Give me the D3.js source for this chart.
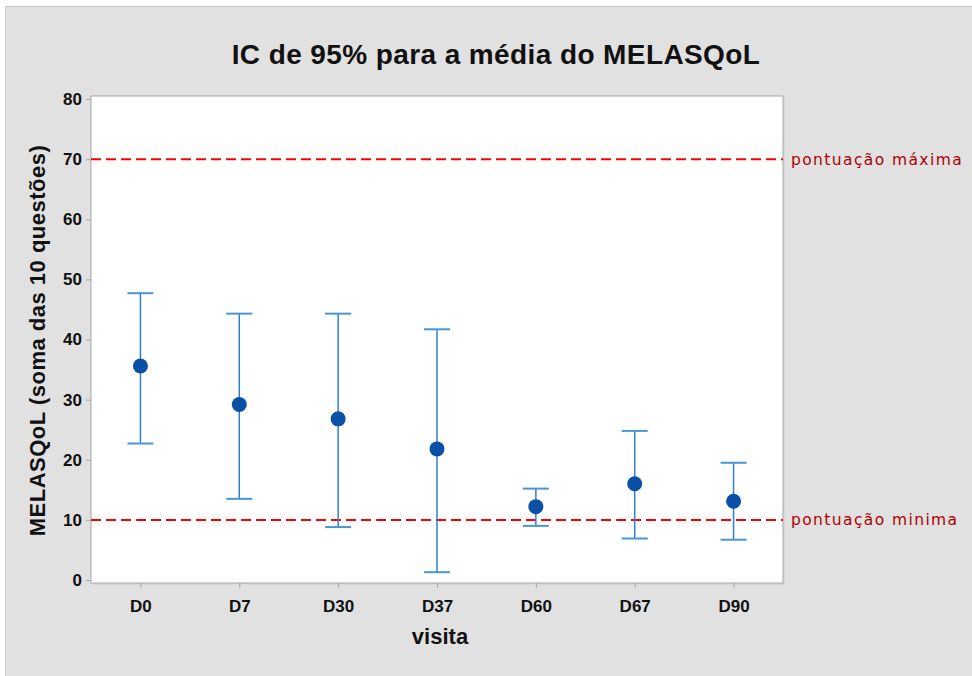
<!DOCTYPE html>
<html>
<head>
<meta charset="utf-8">
<script src="https://cdn.jsdelivr.net/npm/d3@7"></script>
<style>
  body { margin: 0; background: #fff; }
  svg { display: block; }
</style>
</head>
<body>
<svg id="chart" width="972" height="676"></svg>
<script>
// IC de 95% para a média do MELASQoL, por visita

const visits = ['D0', 'D7', 'D30', 'D37', 'D60', 'D67', 'D90'];
const means = [35.6, 29.2, 26.8, 21.8, 12.2, 16.0, 13.1];
const upper = [47.7, 44.3, 44.3, 41.7, 15.2, 24.8, 19.5];
const lower = [22.7, 13.5, 8.8, 1.3, 9.0, 6.9, 6.7];
const yTicks = [0, 10, 20, 30, 40, 50, 60, 70, 80];
const refLines = [70, 10];
const refLabels = ['pontuação máxima', 'pontuação minima'];

const svg = d3.select('#chart');
const font = 'Liberation Sans, Arial, sans-serif';

// gray panel behind everything
svg.append('rect')
    .attr('x', 5).attr('y', 6)
    .attr('width', 967).attr('height', 670)
    .attr('fill', '#e1e1e1');
svg.append('line')
    .attr('x1', 5).attr('x2', 972).attr('y1', 6.5).attr('y2', 6.5)
    .attr('stroke', '#c4c4c4');
svg.append('line')
    .attr('x1', 5.5).attr('x2', 5.5).attr('y1', 6).attr('y2', 676)
    .attr('stroke', '#d0d0d0');

const plot = { left: 91, right: 783, top: 96, bottom: 583 };

const x = d3.scalePoint()
    .domain(visits)
    .range([plot.left, plot.right])
    .padding(0.5);

const y = d3.scaleLinear()
    .domain([0, 80])
    .range([580, 99]);

// plot frame
svg.append('rect')
    .attr('x', plot.left + 1).attr('y', plot.top + 1)
    .attr('width', plot.right - plot.left).attr('height', plot.bottom - plot.top)
    .attr('fill', 'none')
    .attr('stroke', '#cfcfcf');
svg.append('rect')
    .attr('x', plot.left).attr('y', plot.top)
    .attr('width', plot.right - plot.left).attr('height', plot.bottom - plot.top)
    .attr('fill', '#fff')
    .attr('stroke', '#a8a8a8');

// y axis
const yAxis = svg.append('g')
    .attr('transform', `translate(${plot.left},0)`)
    .call(d3.axisLeft(y).tickValues(yTicks).tickSize(5).tickPadding(4).tickFormat(d3.format('d')));
yAxis.select('.domain').remove();
yAxis.selectAll('.tick line').attr('stroke', '#a8a8a8');
yAxis.selectAll('.tick text')
    .attr('font-family', font)
    .attr('font-size', '17px')
    .attr('font-weight', 'bold')
    .attr('fill', '#111');

// x axis
const xAxis = svg.append('g')
    .attr('transform', `translate(0,${plot.bottom})`)
    .call(d3.axisBottom(x).tickSize(5).tickPadding(12));
xAxis.select('.domain').remove();
xAxis.selectAll('.tick line').attr('stroke', '#a8a8a8');
xAxis.selectAll('.tick text')
    .attr('font-family', font)
    .attr('font-size', '17px')
    .attr('font-weight', 'bold')
    .attr('fill', '#111');

// reference lines
refLines.forEach((v, i) => {
    svg.append('line')
        .attr('x1', plot.left).attr('x2', plot.right)
        .attr('y1', y(v)).attr('y2', y(v))
        .attr('stroke', '#ff0000')
        .attr('stroke-width', 2)
        .attr('stroke-dasharray', '10,5');
    svg.append('text')
        .attr('x', plot.right + 8)
        .attr('y', y(v))
        .attr('dy', '0.35em')
        .attr('fill', '#b00000')
        .attr('font-family', 'DejaVu Sans, sans-serif')
        .attr('font-size', '15.5px')
        .attr('letter-spacing', '1.4px')
        .text(refLabels[i]);
});

// error bars
const capW = 13;
const bars = svg.append('g');
visits.forEach((v, i) => {
    const cx = x(v);
    bars.append('line')
        .attr('x1', cx).attr('x2', cx)
        .attr('y1', y(upper[i])).attr('y2', y(lower[i]))
        .attr('stroke', '#2f7fcf')
        .attr('stroke-width', 1.5);
    [upper[i], lower[i]].forEach(val => {
        bars.append('line')
            .attr('x1', cx - capW).attr('x2', cx + capW)
            .attr('y1', y(val)).attr('y2', y(val))
            .attr('stroke', '#4a95d4')
            .attr('stroke-width', 2);
    });
});

// mean points
svg.append('g')
    .selectAll('circle')
    .data(visits)
    .enter()
    .append('circle')
    .attr('cx', d => x(d))
    .attr('cy', (d, i) => y(means[i]))
    .attr('r', 7.5)
    .attr('fill', '#0a50a6');

// title
svg.append('text')
    .attr('x', 496)
    .attr('y', 64)
    .attr('text-anchor', 'middle')
    .attr('font-family', font)
    .attr('font-size', '28px')
    .attr('font-weight', 'bold')
    .attr('letter-spacing', '0.4px')
    .attr('fill', '#111')
    .text('IC de 95% para a média do MELASQoL');

// axis titles
svg.append('text')
    .attr('x', 440)
    .attr('y', 644)
    .attr('text-anchor', 'middle')
    .attr('font-family', font)
    .attr('font-size', '22px')
    .attr('font-weight', 'bold')
    .attr('fill', '#111')
    .text('visita');

svg.append('text')
    .attr('transform', `translate(45,${(y(0) + y(80)) / 2 + 1}) rotate(-90)`)
    .attr('text-anchor', 'middle')
    .attr('font-family', font)
    .attr('font-size', '22px')
    .attr('font-weight', 'bold')
    .attr('letter-spacing', '0.5px')
    .attr('fill', '#111')
    .text('MELASQoL (soma das 10 questões)');
</script>
</body>
</html>
